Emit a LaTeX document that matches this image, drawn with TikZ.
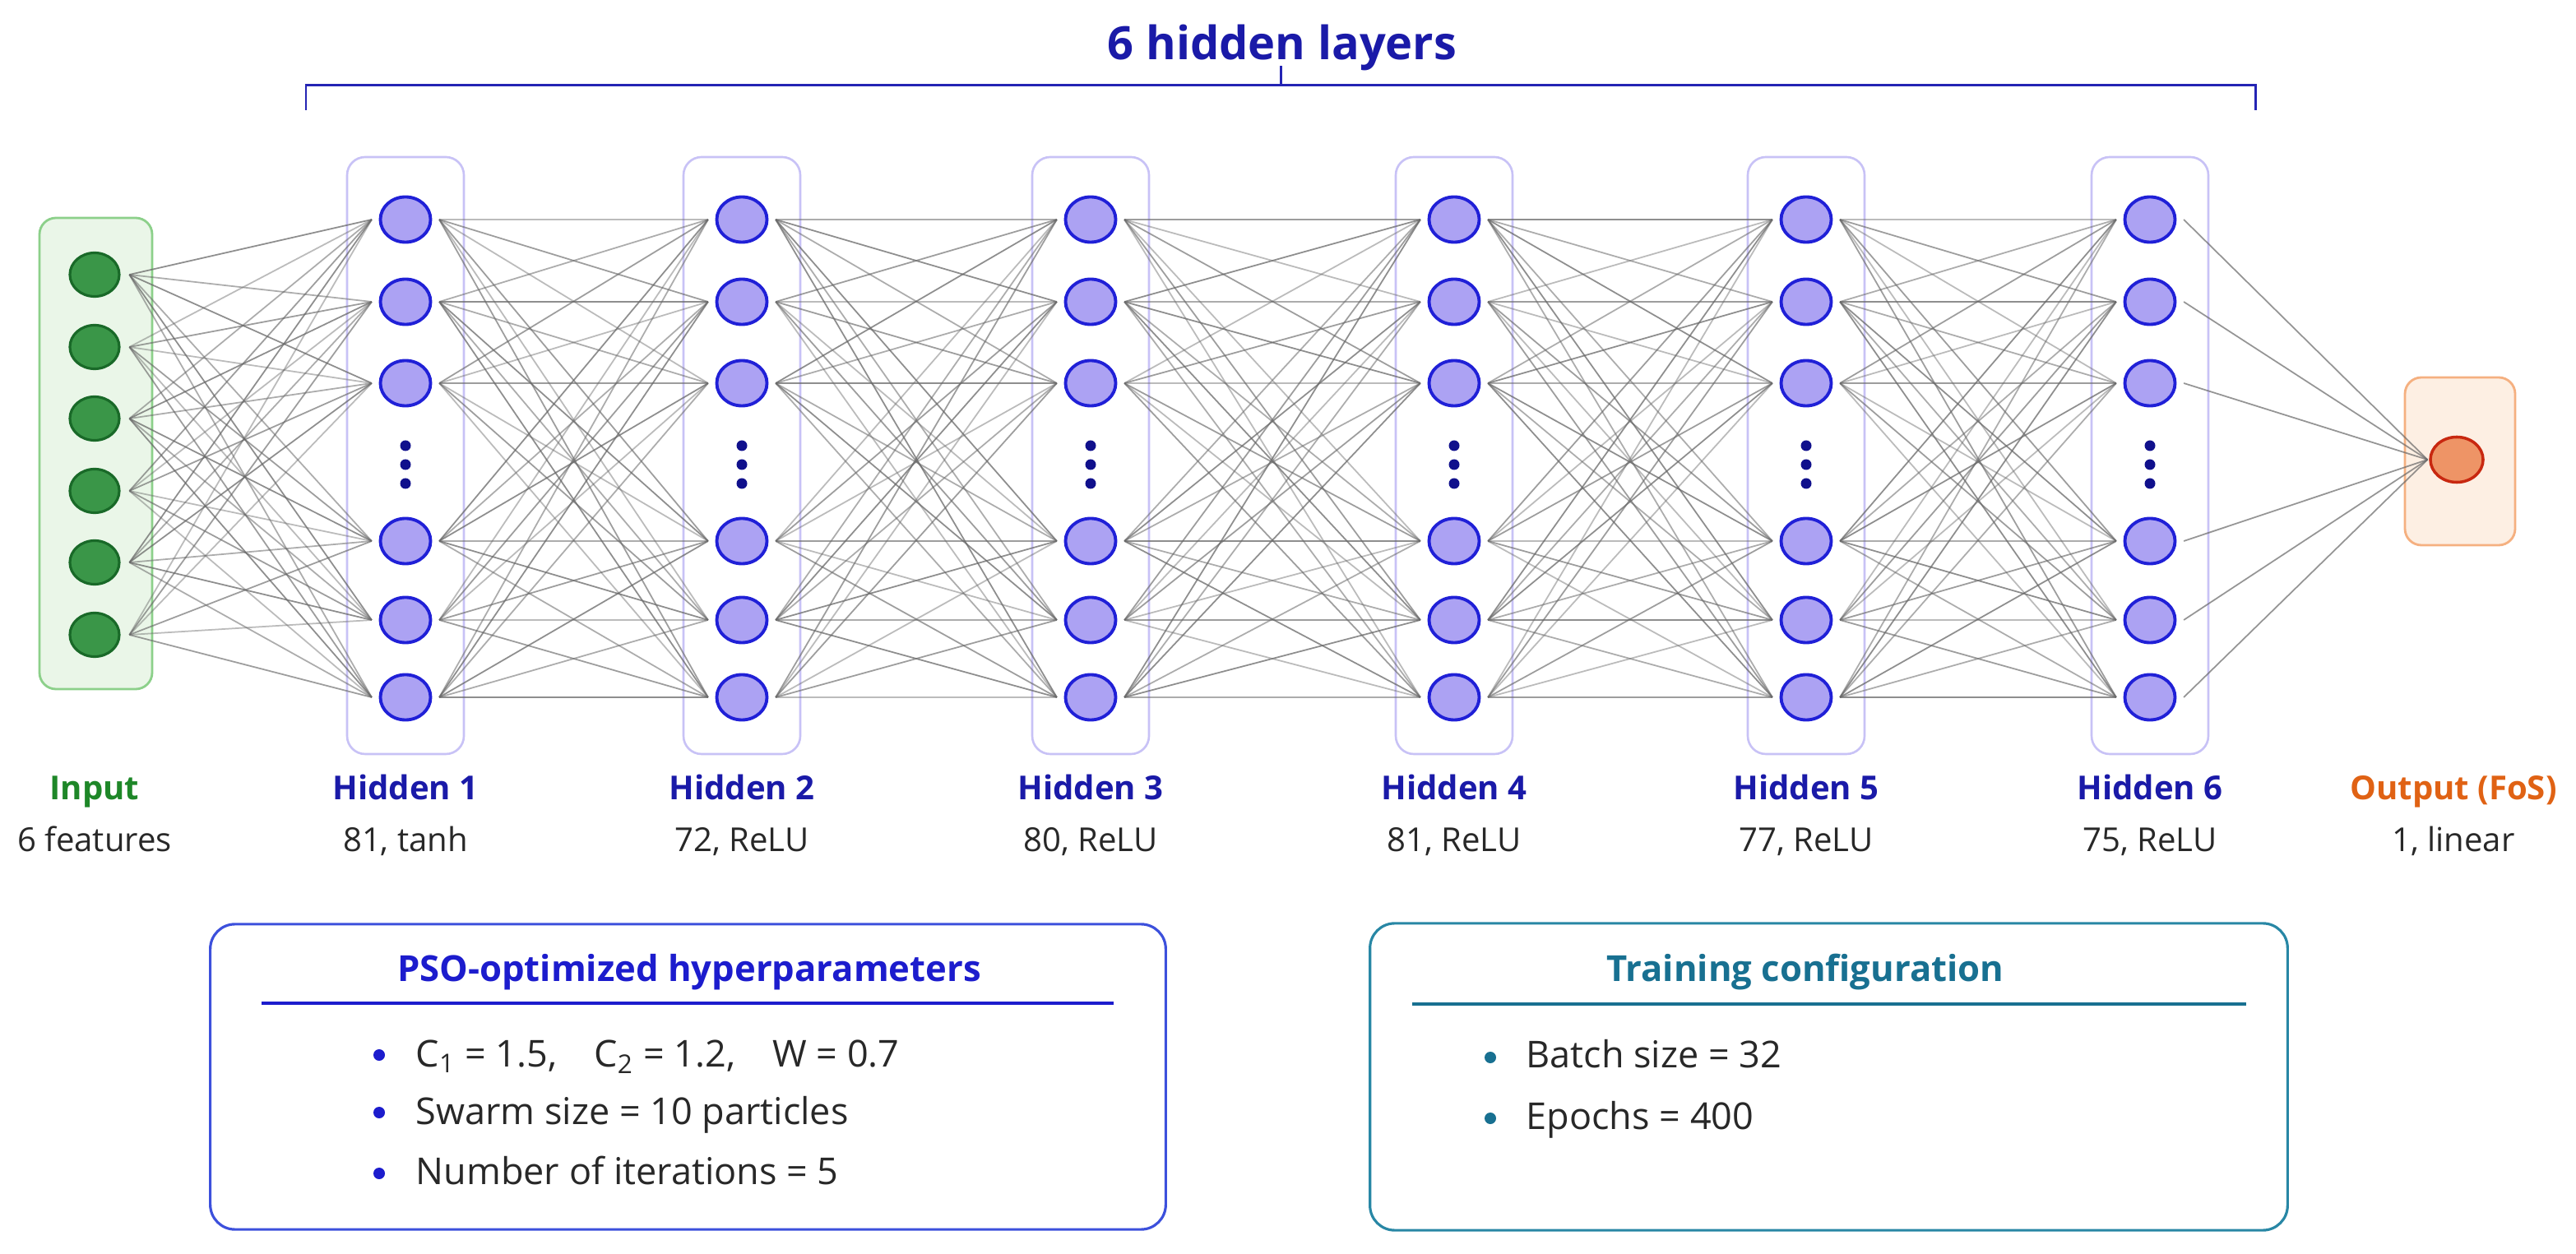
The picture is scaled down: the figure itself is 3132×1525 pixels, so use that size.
\documentclass[tikz,border=0pt]{standalone}
\usepackage{fontspec}
\setmainfont{Open Sans}
\usetikzlibrary{shapes.geometric}
\pgfdeclarelayer{bg}
\pgfdeclarelayer{edges}
\pgfsetlayers{bg,edges,main}
\definecolor{navyc}{RGB}{26,26,168}
\definecolor{brack}{RGB}{36,36,180}
\definecolor{hidfill}{RGB}{172,162,243}
\definecolor{hidborder}{RGB}{32,32,215}
\definecolor{hidbox}{RGB}{200,194,246}
\definecolor{dotc}{RGB}{16,16,140}
\definecolor{inbox}{RGB}{234,246,232}
\definecolor{inboxb}{RGB}{140,208,138}
\definecolor{infill}{RGB}{58,150,72}
\definecolor{inborder}{RGB}{25,105,40}
\definecolor{ingreen}{RGB}{30,135,40}
\definecolor{outbox}{RGB}{253,239,227}
\definecolor{outboxb}{RGB}{245,176,128}
\definecolor{outfill}{RGB}{238,148,102}
\definecolor{outborder}{RGB}{200,40,16}
\definecolor{outorange}{RGB}{224,98,20}
\definecolor{psoblue}{RGB}{28,28,205}
\definecolor{psoframe}{RGB}{60,80,220}
\definecolor{tealc}{RGB}{24,112,145}
\definecolor{tealframe}{RGB}{40,135,165}
\definecolor{txtc}{RGB}{40,40,40}
\definecolor{edgec}{RGB}{105,105,105}
\tikzset{
  hnode/.style={ellipse, minimum width=0.61cm, minimum height=0.55cm, inner sep=0pt,
     fill=hidfill, draw=hidborder, line width=1.1pt, outer xsep=3pt},
  inode/.style={ellipse, minimum width=0.60cm, minimum height=0.53cm, inner sep=0pt,
     fill=infill, draw=inborder, line width=0.9pt, outer xsep=3.5pt},
  onode/.style={ellipse, minimum width=0.64cm, minimum height=0.55cm, inner sep=0pt,
     fill=outfill, draw=outborder, line width=1pt, outer xsep=1pt},
  conn/.style={draw=edgec, line width=0.5pt},
  layerbox/.style={draw=hidbox, line width=0.75pt, rounded corners=0.22cm, fill=white},
  lblb/.style={font=\bfseries\fontsize{11.4}{13}\selectfont, anchor=base, inner sep=0pt},
  lbls/.style={font=\fontsize{11.4}{13}\selectfont, text=txtc, anchor=base, inner sep=0pt},
  paneltitle/.style={font=\bfseries\fontsize{12.4}{15}\selectfont, anchor=base, inner sep=0pt},
  item/.style={font=\fontsize{12.8}{15}\selectfont, text=txtc, anchor=base west, inner sep=0pt},
}
\begin{document}
\begin{tikzpicture}[x=0.01cm, y=-0.01cm]
\useasboundingbox (0,0) rectangle (3132,1525);
\begin{pgfonlayer}{bg}
\fill[white] (0,0) rectangle (3132,1525);
\draw[draw=inboxb, fill=inbox, line width=0.8pt, rounded corners=0.2cm] (48,265) rectangle (185,838);
\draw[draw=outboxb, fill=outbox, line width=0.8pt, rounded corners=0.2cm] (2924,459) rectangle (3058,663);
\end{pgfonlayer}

% title and bracket
\node[font=\bfseries\fontsize{15.9}{19}\selectfont, text=navyc, anchor=base, inner sep=0pt] (title) at (1559,73) {6 hidden layers};
\draw[brack, line width=0.85pt] (372,134) -- (372,104) -- (2742,104) -- (2742,134);
\draw[brack, line width=0.85pt] (1557,104) -- (1557,80);

% input layer
\foreach \j/\y in {1/334,2/422,3/509,4/597,5/684,6/772}
  \node[inode] (i-\j) at (115,\y) {};

% hidden layers
\foreach \L/\x/\sub in {1/493/{81, tanh},2/902/{72, ReLU},3/1326/{80, ReLU},4/1768/{81, ReLU},5/2196/{77, ReLU},6/2614/{75, ReLU}} {
  \begin{pgfonlayer}{bg}
    \draw[layerbox] (\x-71,191) rectangle (\x+71,917);
  \end{pgfonlayer}
  \foreach \j/\y in {1/267,2/367,3/466,4/658,5/754,6/848}
    \node[hnode] (h\L-\j) at (\x,\y) {};
  \foreach \y in {542,565,588}
    \fill[dotc] (\x,\y) circle (0.065cm);
  \node[lblb, text=navyc] (hl\L) at (\x,973) {Hidden \L};
  \node[lbls] (hs\L) at (\x,1036) {\sub};
}

% output
\node[onode] (out) at (2987,559) {};

% labels for input/output
\node[lblb, text=ingreen] (inlab) at (115,973) {Input};
\node[lbls] (insub) at (115,1036) {6 features};
\node[lblb, text=outorange] (outlab) at (2983,973) {Output (FoS)};
\node[lbls] (outsub) at (2983,1036) {1, linear};

% connections
\begin{pgfonlayer}{edges}
\foreach \a in {1,...,6}
  \foreach \b in {1,...,6} {
    \pgfmathsetmacro\op{0.45+0.1*mod(\a+2*\b,4)}
    \draw[conn, draw opacity=\op] (i-\a.east) -- (h1-\b.west);
  }
\foreach \L in {1,...,5} {
  \pgfmathtruncatemacro\N{\L+1}
  \foreach \a in {1,...,6}
    \foreach \b in {1,...,6} {
      \pgfmathsetmacro\op{0.45+0.1*mod(\a+2*\b+\L,4)}
      \draw[conn, draw opacity=\op] (h\L-\a.east) -- (h\N-\b.west);
    }
}
\foreach \a in {1,...,6}
  \draw[conn, draw opacity=0.7] (h6-\a.east) -- (out.west);
\end{pgfonlayer}

% PSO panel
\node[draw=psoframe, line width=0.9pt, rounded corners=0.3cm, minimum width=11.61cm, minimum height=3.71cm, inner sep=0pt] (pso) at (836.5,1309.5) {};
\node[paneltitle, text=psoblue] (psot) at (838,1193) {PSO-optimized hyperparameters};
\draw[psoblue, line width=0.9pt] (318,1220) -- (1354,1220);
\foreach \y in {1283,1353,1427}
  \fill[psoblue] (461,\y) circle (0.07cm);
\node[item] (p1) at (505,1297) {C\textsubscript{1} = 1.5,\quad C\textsubscript{2} = 1.2,\quad W = 0.7};
\node[item] (p2) at (505,1367) {Swarm size = 10 particles};
\node[item] (p3) at (505,1440) {Number of iterations = 5};

% Training panel
\node[draw=tealframe, line width=0.9pt, rounded corners=0.3cm, minimum width=11.15cm, minimum height=3.73cm, inner sep=0pt] (train) at (2223.5,1309.5) {};
\node[paneltitle, text=tealc] (traint) at (2195,1193) {Training configuration};
\draw[tealc, line width=0.9pt] (1717,1221) -- (2731,1221);
\foreach \y in {1286,1360}
  \fill[tealc] (1812,\y) circle (0.07cm);
\node[item] (t1) at (1855,1298) {Batch size = 32};
\node[item] (t2) at (1855,1373) {Epochs = 400};
\end{tikzpicture}
\end{document}
